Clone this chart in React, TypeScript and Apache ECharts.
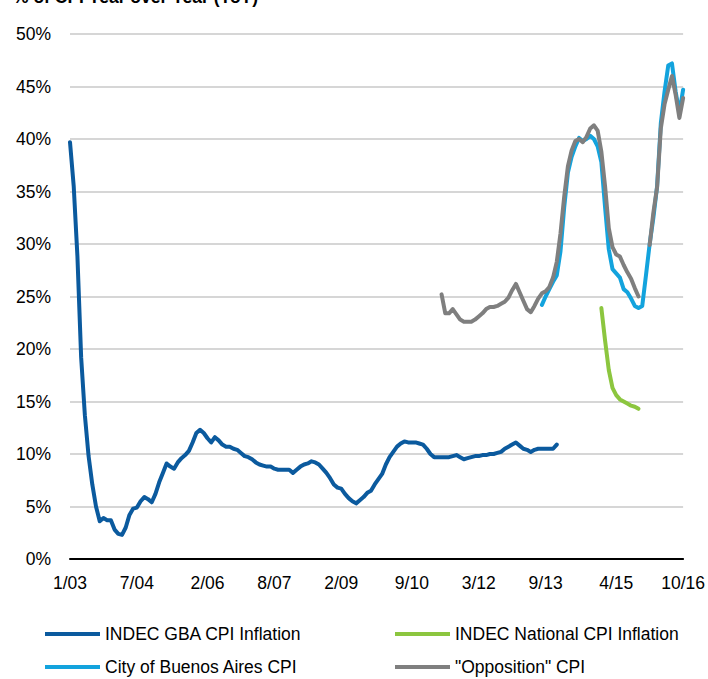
import React, { useEffect, useRef } from "react";
import * as echarts from "echarts";

// Monthly categories Jan 2003 .. Oct 2016
const startYear = 2003;
const monthCount = 166;
const categories: string[] = [];
for (let i = 0; i < monthCount; i++) {
  const y = startYear + Math.floor(i / 12);
  const m = (i % 12) + 1;
  categories.push(`${m}/${String(y % 100).padStart(2, "0")}`);
}
const labelIndices = [0, 18, 37, 55, 73, 92, 110, 128, 147, 165];

// INDEC GBA CPI Inflation, starting 1/03
const gbaStart = 0;
const gba = [
  39.7, 35.5, 28.8, 19.2, 13.7, 9.8, 7.1, 5.0, 3.6, 3.9,
  3.7, 3.7, 2.8, 2.4, 2.3, 3.0, 4.2, 4.8, 4.9, 5.5,
  5.9, 5.7, 5.4, 6.2, 7.3, 8.2, 9.1, 8.8, 8.6, 9.2,
  9.6, 9.9, 10.3, 11.1, 12.0, 12.3, 12.0, 11.5, 11.1, 11.6,
  11.3, 10.9, 10.7, 10.7, 10.5, 10.4, 10.1, 9.8, 9.7, 9.5,
  9.2, 9.0, 8.9, 8.8, 8.8, 8.6, 8.5, 8.5, 8.5, 8.5,
  8.2, 8.5, 8.8, 9.0, 9.1, 9.3, 9.2, 9.0, 8.6, 8.2,
  7.7, 7.1, 6.8, 6.7, 6.2, 5.8, 5.5, 5.3, 5.6, 5.9,
  6.3, 6.5, 7.1, 7.6, 8.1, 9.0, 9.7, 10.2, 10.7, 11.0,
  11.2, 11.1, 11.1, 11.1, 11.0, 10.9, 10.5, 10.0, 9.7, 9.7,
  9.7, 9.7, 9.7, 9.8, 9.9, 9.7, 9.5, 9.6, 9.7, 9.8,
  9.8, 9.9, 9.9, 10.0, 10.0, 10.1, 10.2, 10.5, 10.7, 10.9,
  11.1, 10.8, 10.5, 10.4, 10.2, 10.4, 10.5, 10.5, 10.5, 10.5,
  10.5, 10.9,
];

// INDEC National CPI Inflation, starting 12/14
const nationalStart = 143;
const national = [23.9, 20.8, 18.0, 16.3, 15.6, 15.2, 15.0, 14.8, 14.6, 14.5, 14.3];

// City of Buenos Aires CPI, starting 8/13
const cityStart = 127;
const city = [
  24.2, 25.0, 25.7, 26.4, 27.0, 29.3, 33.5, 36.8, 38.3, 39.3,
  40.1, 39.8, 40.0, 40.3, 40.0, 39.3, 37.8, 33.5, 29.5, 27.6,
  27.2, 26.8, 25.7, 25.4, 24.8, 24.1, 23.9, 24.1, 27.0, 30.0,
  32.5, 35.5, 41.5, 44.5, 47.0, 47.2, 44.5, 42.5, 44.7,
];

// "Opposition" CPI, starting 5/11 (gap 11/15-12/15)
const oppStart = 100;
const opposition = [
  25.2, 23.4, 23.4, 23.8, 23.3, 22.8, 22.6, 22.6, 22.6, 22.8,
  23.1, 23.4, 23.8, 24.0, 24.0, 24.1, 24.3, 24.5, 24.9, 25.6,
  26.2, 25.4, 24.6, 23.8, 23.5, 24.1, 24.8, 25.3, 25.5, 25.9,
  26.8, 28.3, 31.0, 34.5, 37.4, 38.9, 39.8, 40.0, 39.7, 40.2,
  41.0, 41.3, 40.8, 38.8, 35.5, 31.5, 29.7, 29.0, 28.8, 28.0,
  27.3, 26.7, 25.8, 25.0, null, null, 29.9, 33.0, 35.4, 41.0,
  43.3, 44.7, 46.0, 44.2, 42.0, 43.9,
];

const yTicks = { min: 0, max: 50, interval: 5 };

function pad(start: number, values: (number | null)[]) {
  const out: (number | null)[] = new Array(monthCount).fill(null);
  values.forEach((v, i) => {
    out[start + i] = v;
  });
  return out;
}

const FONT = "'Liberation Sans', Arial, sans-serif";
const FS = 17.5;
const COLORS = {
  gba: "#0b5a9e",
  national: "#8cc63f",
  city: "#13a3dd",
  opp: "#7f7f7f",
};

export default function App() {
  const ref = useRef<HTMLDivElement>(null);
  useEffect(() => {
    document.body.style.margin = "0";
    if (!ref.current) return;
    const chart = echarts.init(ref.current, undefined, { renderer: "svg" });
    const lineSeries = (name: string, data: (number | null)[], color: string) => ({
      name,
      type: "line",
      data,
      symbol: "none",
      showSymbol: false,
      connectNulls: false,
      lineStyle: { color, width: 4, cap: "round", join: "round" },
      itemStyle: { color },
    });
    const legendItem = (name: string, left: number, top: number) => ({
      data: [name],
      left,
      top,
      orient: "horizontal",
      icon: "rect",
      itemWidth: 55,
      itemHeight: 4,
      padding: 0,
      textStyle: { fontFamily: FONT, fontSize: FS, color: "#000" },
      selectedMode: false,
    });
    chart.setOption({
      animation: false,
      backgroundColor: "#fff",
      grid: { left: 70, right: 24, top: 34, bottom: 120, containLabel: false },
      graphic: [
        {
          type: "text",
          left: 13,
          top: -12,
          style: {
            text: "% of CPI Year over Year (YoY)",
            fontFamily: FONT,
            fontSize: FS,
            fontWeight: "bold",
            fill: "#000",
          },
        },
      ],
      legend: [
        legendItem("INDEC GBA CPI Inflation", 45, 625),
        legendItem("INDEC National CPI Inflation", 395, 625),
        legendItem("City of Buenos Aires CPI", 45, 658),
        legendItem('"Opposition" CPI', 395, 658),
      ],
      xAxis: {
        type: "category",
        data: categories,
        boundaryGap: false,
        axisLine: { show: true, lineStyle: { color: "#000", width: 2 } },
        axisTick: { show: false },
        splitLine: { show: false },
        axisLabel: {
          interval: (index: number) => labelIndices.includes(index),
          margin: 15,
          fontFamily: FONT,
          fontSize: FS,
          color: "#000",
        },
      },
      yAxis: {
        type: "value",
        min: yTicks.min,
        max: yTicks.max,
        interval: yTicks.interval,
        axisLine: { show: false },
        axisTick: { show: false },
        splitLine: { show: true, lineStyle: { color: "#c8c8c8", width: 1.5 } },
        axisLabel: {
          formatter: "{value}%",
          margin: 19,
          fontFamily: FONT,
          fontSize: FS,
          color: "#000",
        },
      },
      series: [
        lineSeries("INDEC GBA CPI Inflation", pad(gbaStart, gba), COLORS.gba),
        lineSeries("INDEC National CPI Inflation", pad(nationalStart, national), COLORS.national),
        lineSeries("City of Buenos Aires CPI", pad(cityStart, city), COLORS.city),
        lineSeries('"Opposition" CPI', pad(oppStart, opposition), COLORS.opp),
      ],
    });
    return () => chart.dispose();
  }, []);
  return <div ref={ref} style={{ width: 708, height: 679 }} />;
}
